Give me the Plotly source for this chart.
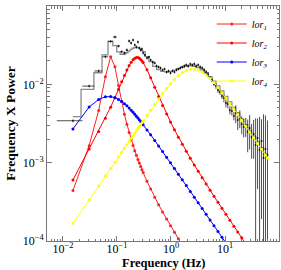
import plotly.graph_objects as go

# ---------------- data ----------------
model_freq = [0.0153, 0.0305, 0.0458, 0.0610, 0.0763, 0.0916, 0.1068, 0.1221, 0.1373, 0.1526,
              0.1679, 0.1831, 0.1984, 0.2136, 0.2289, 0.2441, 0.2594, 0.2747, 0.2899, 0.3052,
              0.36, 0.42, 0.50, 0.59, 0.70, 0.83, 0.98, 1.16, 1.37, 1.62, 1.92, 2.28, 2.70,
              3.19, 3.78, 4.47, 5.29, 6.26, 7.41, 8.78, 10.4, 12.3, 14.6, 17.2, 20.4, 24.2,
              28.6, 33.9, 40.1, 47.5, 56.2, 61.2]

lor1 = [4.4e-4, 1.65e-3, 4.64e-3, 1.254e-2, 2.256e-2, 1.674e-2, 9.64e-3, 6.02e-3, 4.16e-3, 3.09e-3,
        2.42e-3, 1.98e-3, 1.66e-3, 1.42e-3, 1.243e-3, 1.101e-3, 9.87e-4, 8.93e-4, 8.15e-4, 7.48e-4,
        5.77e-4, 4.61e-4, 3.62e-4, 2.91e-4, 2.35e-4, 1.91e-4, 1.57e-4, 1.29e-4, 1.07e-4, 8.9e-5, 7.4e-5]

lor2 = [6.0e-4, 1.495e-3, 2.495e-3, 3.689e-3, 5.115e-3, 6.78e-3, 8.666e-3, 1.0764e-2, 1.2978e-2,
        1.5226e-2, 1.7349e-2, 1.918e-2, 2.0608e-2, 2.1538e-2, 2.1965e-2, 2.1926e-2, 2.1507e-2,
        2.0807e-2, 1.9928e-2, 1.8942e-2, 1.5341e-2, 1.2122e-2, 9.149e-3, 7.015e-3, 5.38e-3,
        4.178e-3, 3.302e-3, 2.627e-3, 2.115e-3, 1.713e-3, 1.394e-3, 1.137e-3, 9.36e-4, 7.75e-4,
        6.42e-4, 5.35e-4, 4.46e-4, 3.73e-4, 3.12e-4, 2.61e-4, 2.19e-4, 1.84e-4, 1.546e-4,
        1.307e-4, 1.098e-4, 9.23e-5]

lor3 = [2.7e-3, 5.13e-3, 6.41e-3, 6.93e-3, 6.97e-3, 6.75e-3, 6.42e-3, 6.04e-3, 5.67e-3, 5.31e-3,
        4.97e-3, 4.67e-3, 4.39e-3, 4.14e-3, 3.92e-3, 3.71e-3, 3.52e-3, 3.35e-3, 3.19e-3, 3.05e-3,
        2.62e-3, 2.27e-3, 1.922e-3, 1.638e-3, 1.386e-3, 1.172e-3, 9.95e-4, 8.42e-4, 7.13e-4,
        6.04e-4, 5.10e-4, 4.29e-4, 3.63e-4, 3.07e-4, 2.59e-4, 2.19e-4, 1.852e-4, 1.565e-4,
        1.322e-4, 1.116e-4, 9.42e-5, 7.97e-5]

lor4 = [1.684e-4, 3.362e-4, 5.055e-4, 6.741e-4, 8.441e-4, 1.0145e-3, 1.184e-3, 1.355e-3, 1.525e-3,
        1.696e-3, 1.867e-3, 2.037e-3, 2.209e-3, 2.379e-3, 2.551e-3, 2.721e-3, 2.892e-3, 3.063e-3,
        3.233e-3, 3.404e-3, 4.012e-3, 4.673e-3, 5.54e-3, 6.492e-3, 7.612e-3, 8.858e-3, 1.0176e-2,
        1.1567e-2, 1.2913e-2, 1.4128e-2, 1.508e-2, 1.5625e-2, 1.5669e-2, 1.5227e-2, 1.435e-2,
        1.318e-2, 1.1837e-2, 1.0445e-2, 9.093e-3, 7.83e-3, 6.696e-3, 5.706e-3, 4.829e-3, 4.108e-3,
        3.466e-3, 2.921e-3, 2.47e-3, 2.081e-3, 1.758e-3, 1.482e-3, 1.251e-3, 1.148e-3]

total_model = [3.88e-3, 8.61e-3, 1.405e-2, 2.383e-2, 3.549e-2, 3.129e-2, 2.591e-2, 2.418e-2,
               2.433e-2, 2.532e-2, 2.661e-2, 2.787e-2, 2.887e-2, 2.948e-2, 2.968e-2, 2.946e-2,
               2.891e-2, 2.811e-2, 2.717e-2, 2.614e-2, 2.255e-2, 1.953e-2, 1.697e-2, 1.544e-2,
               1.461e-2, 1.440e-2, 1.463e-2, 1.517e-2, 1.585e-2, 1.653e-2, 1.706e-2, 1.725e-2,
               1.702e-2, 1.635e-2, 1.529e-2, 1.396e-2, 1.249e-2, 1.100e-2, 9.555e-3, 8.218e-3,
               7.022e-3, 5.981e-3, 5.06e-3, 4.304e-3, 3.63e-3, 3.058e-3, 2.586e-3, 2.179e-3,
               1.840e-3, 1.552e-3, 1.309e-3, 1.202e-3]

# low-frequency (linear bins) data
lf_freq = model_freq[:20]
lf_power = [3.43e-3, 9.5e-3, 1.48e-2, 2.25e-2, 3.52e-2, 4.02e-2, 3.08e-2, 2.61e-2, 2.51e-2, 2.74e-2,
            3.57e-2, 3.37e-2, 3.68e-2, 3.18e-2, 2.99e-2, 3.47e-2, 2.91e-2, 2.74e-2, 2.82e-2, 2.51e-2]
lf_err = [1.5e-4, 3.5e-4, 6e-4, 9e-4, 1.3e-3, 1.5e-3, 1.2e-3, 1.1e-3, 1.1e-3, 1.2e-3,
          1.4e-3, 1.4e-3, 1.5e-3, 1.3e-3, 1.3e-3, 1.4e-3, 1.3e-3, 1.2e-3, 1.2e-3, 1.1e-3]
lf_halfbin = 0.00763

# higher-frequency (rebinned) data
hf_freq = [0.33, 0.36, 0.39, 0.42, 0.46, 0.50, 0.54, 0.59, 0.64, 0.70, 0.76, 0.83, 0.90, 0.98,
           1.07, 1.16, 1.26, 1.37, 1.49, 1.62, 1.77, 1.92, 2.09, 2.28, 2.48, 2.70, 2.93, 3.19,
           3.47, 3.78, 4.11, 4.47, 4.86, 5.29, 5.76, 6.26, 6.81, 7.41, 8.07, 8.78, 9.55, 10.4,
           11.3, 12.3, 13.4, 14.6, 15.8, 17.2, 18.8, 20.4, 22.2, 24.2, 26.3, 28.6, 31.1, 33.9,
           36.9, 40.1, 43.7, 47.5, 51.7, 56.2, 61.2]
hf_power = [0.02366, 0.02167, 0.02232, 0.02043, 0.01927, 0.01871, 0.01713, 0.01663, 0.01615,
            0.01523, 0.01569, 0.01436, 0.01479, 0.01394, 0.01479, 0.01436, 0.01523, 0.01569,
            0.01615, 0.01663, 0.01713, 0.01764, 0.01713, 0.01816, 0.01764, 0.01816, 0.01713,
            0.01764, 0.01663, 0.01615, 0.01523, 0.01436, 0.01353, 0.01204, 0.01135, 0.01009,
            9.51e-3, 8.46e-3, 7.97e-3, 7.09e-3, 6.68e-3, 5.77e-3, 5.60e-3, 4.70e-3, 4.56e-3,
            3.94e-3, 4.30e-3, 3.50e-3, 3.71e-3, 3.11e-3, 2.85e-3, 2.93e-3, 2.46e-3, 2.77e-3,
            2.12e-3, 2.32e-3, 1.68e-3, 2.06e-3, 1.45e-3, 1.89e-3, 1.145e-3, 1.49e-3, 1.25e-3]
hf_err = [9.5e-4, 8.7e-4, 8.9e-4, 8.2e-4, 7.7e-4, 7.5e-4, 6.9e-4, 6.7e-4, 6.5e-4, 6.1e-4,
          6.3e-4, 5.7e-4, 5.9e-4, 5.6e-4, 5.9e-4, 5.7e-4, 6.1e-4, 6.3e-4, 6.5e-4, 6.7e-4,
          7.7e-4, 7.9e-4, 7.7e-4, 8.2e-4, 7.9e-4, 8.2e-4, 7.7e-4, 7.9e-4, 7.5e-4, 7.3e-4,
          9.1e-4, 8.6e-4, 8.1e-4, 7.2e-4, 6.8e-4, 6.1e-4, 7.6e-4, 6.8e-4, 6.4e-4, 5.7e-4,
          8.0e-4, 6.9e-4, 6.7e-4, 5.6e-4, 5.5e-4, 4.7e-4, 1.1e-3, 9.0e-4, 9.5e-4, 8.0e-4,
          7.5e-4, 8.0e-4, 1.1e-3, 1.3e-3, 1.0e-3, 1.2e-3, 2.0e-3, 1.6e-3, 2.4e-3, 1.7e-3,
          3.0e-3, 2.5e-3, 2.2e-3]
hf_halfbin_percent = 4.2

x_tick_vals = [0.01, 0.1, 1, 10]
x_tick_text = ["10<sup>−2</sup>", "10<sup>−1</sup>", "10<sup>0</sup>", "10<sup>1</sup>"]
y_tick_vals = [1e-4, 1e-3, 1e-2, 1e-1]
y_tick_text = ["10<sup>−4</sup>", "10<sup>−3</sup>", "10<sup>−2</sup>", "10<sup>−1</sup>"]
x_title = "Frequency (Hz)"
y_title = "Frequency X Power"
legend_names = ["lor<sub>1</sub>", "lor<sub>2</sub>", "lor<sub>3</sub>", "lor<sub>4</sub>"]

# ---------------- figure ----------------
SERIF = "Liberation Serif, DejaVu Serif, serif"
fig = go.Figure()

fig.add_trace(go.Scatter(x=model_freq, y=total_model, mode="lines", line_shape="hvh",
                         line=dict(color="#8a8a8a", width=1.3), showlegend=False, hoverinfo="skip"))

err_col = "rgba(20,20,20,0.75)"
fig.add_trace(go.Scatter(
    x=lf_freq, y=lf_power, mode="markers", marker=dict(size=1.5, color="black"),
    error_y=dict(type="data", array=lf_err, color=err_col, thickness=1, width=0),
    error_x=dict(type="constant", value=lf_halfbin, color=err_col, thickness=1, width=0),
    showlegend=False))
fig.add_trace(go.Scatter(
    x=hf_freq, y=hf_power, mode="markers", marker=dict(size=1.5, color="black"),
    error_y=dict(type="data", array=hf_err, color=err_col, thickness=1, width=0),
    error_x=dict(type="percent", value=hf_halfbin_percent, color=err_col, thickness=1, width=0),
    showlegend=False))

curve_vals = [lor1, lor2, lor3, lor4]
curve_cols = ["#ff2020", "#ff0000", "#0000ff", "#ffff00"]
for name, vals, col in zip(legend_names, curve_vals, curve_cols):
    fig.add_trace(go.Scatter(x=model_freq[:len(vals)], y=vals, mode="lines+markers", name=name,
                             line=dict(color=col, width=1), marker=dict(color=col, size=3)))

minor_vals = [m * 10.0 ** e for e in range(-3, 3) for m in range(2, 10)]
axis_common = dict(type="log", showgrid=False, zeroline=False, showline=True, linecolor="#777",
                   linewidth=1, mirror="allticks", ticks="inside", ticklen=5, tickcolor="#777",
                   automargin=False,
                   tickfont=dict(family=SERIF, size=12, color="black"))

fig.update_xaxes(range=[-2.296, 2.0], tickvals=x_tick_vals, ticktext=x_tick_text,
                 ticklabelstandoff=-3,
                 minor=dict(ticks="inside", ticklen=2.5, tickcolor="#777", tickvals=minor_vals),
                 **axis_common)
fig.update_yaxes(range=[-4, -1], tickvals=y_tick_vals, ticktext=y_tick_text,
                 minor=dict(ticks="inside", ticklen=2.5, tickcolor="#777", tickvals=minor_vals),
                 title=dict(text="<b>" + y_title + "</b>",
                            font=dict(family=SERIF, size=13.5, color="black"), standoff=3),
                 **axis_common)

fig.add_annotation(text="<b>" + x_title + "</b>", xref="paper", yref="paper", x=0.5, y=-0.094,
                   xanchor="center", yanchor="middle", showarrow=False,
                   font=dict(family=SERIF, size=12.5, color="black"))

fig.update_layout(
    width=281, height=270, margin=dict(l=47, r=2, t=6, b=29),
    paper_bgcolor="white", plot_bgcolor="white",
    legend=dict(x=0.71, y=0.985, xanchor="left", yanchor="top", bgcolor="rgba(0,0,0,0)",
                font=dict(family=SERIF, size=10, color="black", style="italic"), itemwidth=30,
                tracegroupgap=0),
)

fig.write_html("out.html", config={"displayModeBar": False},
               post_script="document.body.style.margin='0';document.body.style.padding='0';")
